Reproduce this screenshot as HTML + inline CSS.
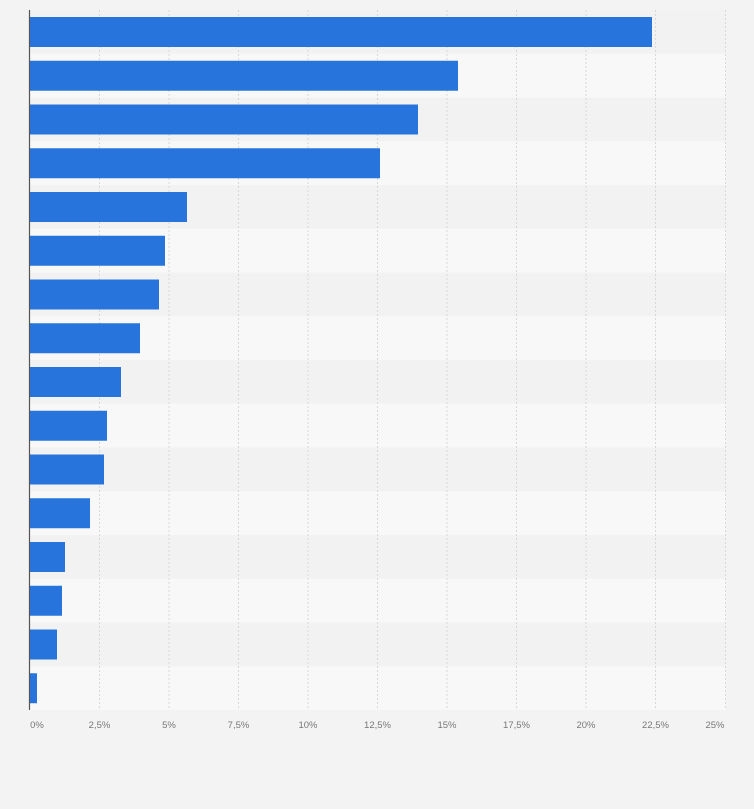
<!DOCTYPE html>
<html><head><style>
body{margin:0;background:#f3f3f3;width:754px;height:809px;overflow:hidden;font-family:"Liberation Sans",sans-serif}
</style></head><body>
<svg width="754" height="809" xmlns="http://www.w3.org/2000/svg" style="display:block">
<rect width="754" height="809" fill="#f3f3f3"/>
<g>
<rect x="30" y="10" width="696" height="43.75" fill="#f2f2f2"/>
<rect x="30" y="53.75" width="696" height="43.75" fill="#f8f8f8"/>
<rect x="30" y="97.5" width="696" height="43.75" fill="#f2f2f2"/>
<rect x="30" y="141.25" width="696" height="43.75" fill="#f8f8f8"/>
<rect x="30" y="185" width="696" height="43.75" fill="#f2f2f2"/>
<rect x="30" y="228.75" width="696" height="43.75" fill="#f8f8f8"/>
<rect x="30" y="272.5" width="696" height="43.75" fill="#f2f2f2"/>
<rect x="30" y="316.25" width="696" height="43.75" fill="#f8f8f8"/>
<rect x="30" y="360" width="696" height="43.75" fill="#f2f2f2"/>
<rect x="30" y="403.75" width="696" height="43.75" fill="#f8f8f8"/>
<rect x="30" y="447.5" width="696" height="43.75" fill="#f2f2f2"/>
<rect x="30" y="491.25" width="696" height="43.75" fill="#f8f8f8"/>
<rect x="30" y="535" width="696" height="43.75" fill="#f2f2f2"/>
<rect x="30" y="578.75" width="696" height="43.75" fill="#f8f8f8"/>
<rect x="30" y="622.5" width="696" height="43.75" fill="#f2f2f2"/>
<rect x="30" y="666.25" width="696" height="43.75" fill="#f8f8f8"/>
</g>
<g stroke="#d8d8d8" stroke-dasharray="2,2">
<line x1="99.5" y1="10" x2="99.5" y2="710"/>
<line x1="169" y1="10" x2="169" y2="710"/>
<line x1="238.5" y1="10" x2="238.5" y2="710"/>
<line x1="308" y1="10" x2="308" y2="710"/>
<line x1="377.5" y1="10" x2="377.5" y2="710"/>
<line x1="447" y1="10" x2="447" y2="710"/>
<line x1="516.5" y1="10" x2="516.5" y2="710"/>
<line x1="586" y1="10" x2="586" y2="710"/>
<line x1="655.5" y1="10" x2="655.5" y2="710"/>
<line x1="725.5" y1="10" x2="725.5" y2="710"/>
</g>
<g fill="#2775dc">
<rect x="30" y="17" width="622" height="30"/>
<rect x="30" y="60.75" width="428" height="30"/>
<rect x="30" y="104.5" width="388" height="30"/>
<rect x="30" y="148.25" width="350" height="30"/>
<rect x="30" y="192" width="157" height="30"/>
<rect x="30" y="235.75" width="135" height="30"/>
<rect x="30" y="279.5" width="129" height="30"/>
<rect x="30" y="323.25" width="110" height="30"/>
<rect x="30" y="367" width="91" height="30"/>
<rect x="30" y="410.75" width="77" height="30"/>
<rect x="30" y="454.5" width="74" height="30"/>
<rect x="30" y="498.25" width="60" height="30"/>
<rect x="30" y="542" width="35" height="30"/>
<rect x="30" y="585.75" width="32" height="30"/>
<rect x="30" y="629.5" width="27" height="30"/>
<rect x="30" y="673.25" width="7" height="30"/>
</g>
<line x1="29.5" y1="10" x2="29.5" y2="710" stroke="#555" stroke-width="1.2"/>
<g font-size="9.5" fill="#777" text-anchor="middle" font-family="Liberation Sans,sans-serif">
<text x="37" y="728">0%</text>
<text x="99.5" y="728">2,5%</text>
<text x="169" y="728">5%</text>
<text x="238.5" y="728">7,5%</text>
<text x="308" y="728">10%</text>
<text x="377.5" y="728">12,5%</text>
<text x="447" y="728">15%</text>
<text x="516.5" y="728">17,5%</text>
<text x="586" y="728">20%</text>
<text x="655.5" y="728">22,5%</text>
<text x="715" y="728">25%</text>
</g>
</svg>
</body></html>
